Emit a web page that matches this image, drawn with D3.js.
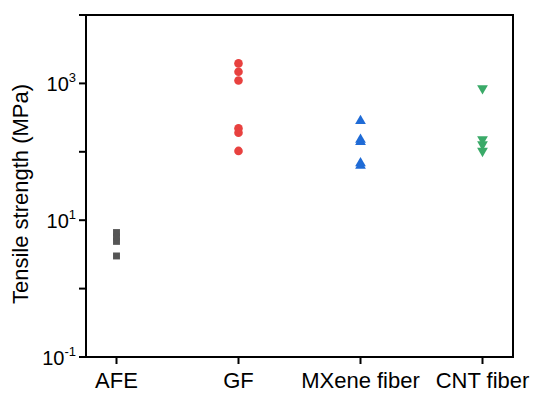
<!DOCTYPE html>
<html><head><meta charset="utf-8">
<script src="https://cdn.jsdelivr.net/npm/d3@7"></script>
<style>body{margin:0;background:#fff}svg{display:block;font-family:"Liberation Sans",Arial,sans-serif}</style>
</head><body><svg id="c" width="534" height="396"></svg>
<script>
const categories = ["AFE", "GF", "MXene fiber", "CNT fiber"];
const afeValues = [3.0, 4.9, 5.7, 6.6];
const gfValues = [1960, 1480, 1100, 220, 190, 103];
const mxeneValues = [282, 150, 140, 68, 63];
const cntValues = [845, 152, 128, 103];
const yTickExps = [-1, 0, 1, 2, 3, 4];
const yLabelExps = [-1, 1, 3];
const yTitle = "Tensile strength (MPa)";

const series = [
  {cat: 0, values: afeValues, shape: d3.symbolSquare, color: "#555555", size: 48},
  {cat: 1, values: gfValues, shape: d3.symbolCircle, color: "#e8413f", size: 58},
  {cat: 2, values: mxeneValues, shape: d3.symbolTriangle, color: "#1f6bd6", size: 50},
  {cat: 3, values: cntValues, shape: d3.symbolTriangle, color: "#3aaa68", size: 50, flip: true}
];

const svg = d3.select("#c");
const L = 86, R = 513, T = 15, B = 357;
const x = d3.scaleLinear().domain([-0.25, 3.25]).range([L, R]);
const y = d3.scaleLog().domain([0.1, 10000]).range([B, T]);

// frame
svg.append("rect").attr("x", L).attr("y", T).attr("width", R - L).attr("height", B - T)
  .attr("fill", "none").attr("stroke", "#000").attr("stroke-width", 2);

// y ticks
const yAxis = svg.append("g");
yTickExps.forEach(e => {
  const yy = y(Math.pow(10, e));
  yAxis.append("line").attr("x1", L - 7).attr("x2", L).attr("y1", yy).attr("y2", yy)
    .attr("stroke", "#000").attr("stroke-width", 2);
});
yLabelExps.forEach(e => {
  const yy = y(Math.pow(10, e));
  const t = yAxis.append("text").attr("x", L - 10).attr("y", yy + 8)
    .attr("text-anchor", "end").attr("font-size", 20).attr("fill", "#000");
  t.append("tspan").text("10");
  t.append("tspan").attr("font-size", 13).attr("dy", -9).text(String(e));
});

// x ticks
categories.forEach((c, i) => {
  const xx = x(i);
  svg.append("line").attr("x1", xx).attr("x2", xx).attr("y1", B).attr("y2", B + 7)
    .attr("stroke", "#000").attr("stroke-width", 2);
  svg.append("text").attr("x", xx).attr("y", B + 31).attr("text-anchor", "middle")
    .attr("font-size", 22).attr("fill", "#000").text(c);
});

// y title
svg.append("text").attr("transform", `translate(28,${(T + B) / 2 + 8}) rotate(-90)`)
  .attr("text-anchor", "middle").attr("font-size", 22).attr("fill", "#000").text(yTitle);

// points
series.forEach(s => {
  const sym = d3.symbol().type(s.shape).size(s.size);
  svg.append("g").selectAll("path").data(s.values).join("path")
    .attr("d", sym)
    .attr("transform", d => `translate(${x(s.cat)},${y(d)})` + (s.flip ? " rotate(180)" : ""))
    .attr("fill", s.color);
});
</script></body></html>
